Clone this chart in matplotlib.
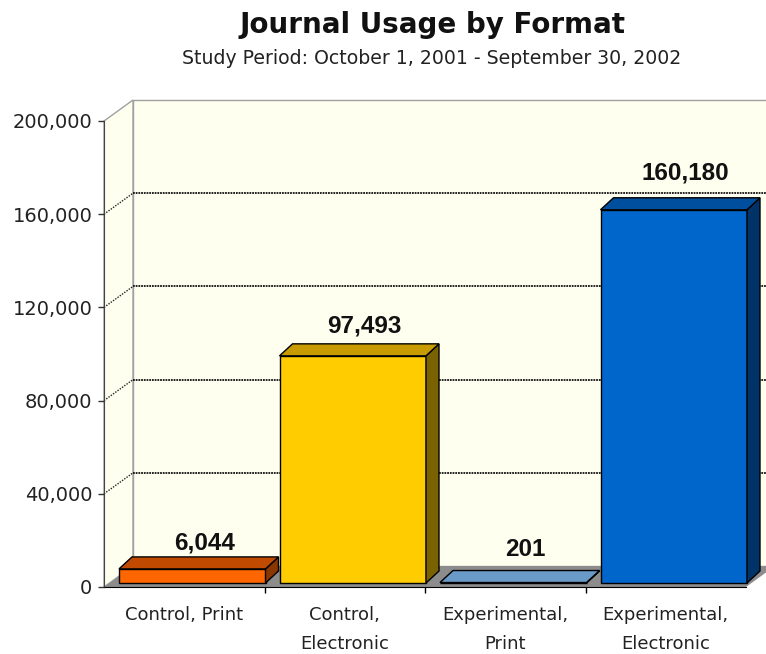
import matplotlib
matplotlib.use("Agg")
import matplotlib.pyplot as plt
from matplotlib.patches import Polygon
from matplotlib.transforms import IdentityTransform
from matplotlib.ticker import FuncFormatter

categories = ["Control, Print", "Control,\nElectronic", "Experimental,\nPrint", "Experimental,\nElectronic"]
usage = [6044, 97493, 201, 160180]
front_colors = ["#FF6600", "#FFCC00", "#6A9AC8", "#0066CC"]
top_colors = ["#C04A00", "#C89B00", "#6A9AC8", "#004E9E"]
side_colors = ["#8A3600", "#7A6200", "#3F6A96", "#003468"]
yticks = [0, 40000, 80000, 120000, 160000, 200000]

W, H = 766, 654
fig = plt.figure(figsize=(W / 100, H / 100), dpi=100)
ax = fig.add_axes([104 / W, (H - 587) / H, 642 / W, 466 / H])
ax.set_xlim(0, 4)
ax.set_ylim(0, 200000)
ax.patch.set_visible(False)

# depth offsets in pixels (wall depth, bar front, bar depth)
DW, DH = 29, 21
FX, FY = 8, 4
SX, SY = 13, 12
gap = 7 / 160.5
top = yticks[-1]


def px(x, y, dx=0, dy=0):
    a, b = ax.transData.transform((x, y))
    return (a + dx, b + dy)


def face(pts, color, ec="black", lw=1.0, z=1):
    ax.add_patch(Polygon(pts, closed=True, facecolor=color, edgecolor=ec, lw=lw,
                         transform=IdentityTransform(), clip_on=False, zorder=z))


def line(pts, **kw):
    xs = [p[0] for p in pts]
    ys = [p[1] for p in pts]
    ax.plot(xs, ys, transform=IdentityTransform(), clip_on=False, **kw)


# walls and floor
face([px(0, 0, DW, DH), px(4, 0, DW, DH), px(4, top, DW, DH), px(0, top, DW, DH)],
     "#FFFFF0", ec="#A0A0A0", z=0.5)
face([px(0, 0), px(0, 0, DW, DH), px(0, top, DW, DH), px(0, top)],
     "#FFFFF0", ec="#A0A0A0", z=0.6)
face([px(0, 0), px(4, 0), px(4, 0, DW, DH), px(0, 0, DW, DH)], "#8C8C8C", ec="none", z=0.7)

# gridlines
for v in yticks[1:-1]:
    line([px(0, v), px(0, v, DW, DH)], color="#222222", lw=1.0, ls=(0, (1, 1)), zorder=0.8)
    line([px(0, v, DW, DH), px(4, v, DW, DH)], color="#111111", lw=1.3, ls=(0, (1, 0.5)), zorder=0.8)

# bars
for i, v in enumerate(usage):
    x0, x1 = i + gap, i + 1 - gap
    face([px(x0, 0, FX, FY), px(x1, 0, FX, FY), px(x1, v, FX, FY), px(x0, v, FX, FY)],
         front_colors[i], z=2 + i)
    face([px(x1, 0, FX, FY), px(x1, 0, FX + SX, FY + SY), px(x1, v, FX + SX, FY + SY), px(x1, v, FX, FY)],
         side_colors[i], z=2 + i)
    face([px(x0, v, FX, FY), px(x1, v, FX, FY), px(x1, v, FX + SX, FY + SY), px(x0, v, FX + SX, FY + SY)],
         top_colors[i], z=2 + i)
    ax.annotate(f"{v:,}", xy=(i + 0.5, v), xytext=(20, 30 + 3.7 * i), textcoords="offset pixels",
                ha="center", va="center", fontsize=17.5, fontweight="bold",
                family=["Liberation Sans", "DejaVu Sans"], color="#111111", zorder=10)

# axes
for s in ["top", "right"]:
    ax.spines[s].set_visible(False)
ax.spines["left"].set_color("#444444")
ax.spines["bottom"].set_color("black")
ax.spines["left"].set_zorder(1)
ax.spines["bottom"].set_zorder(1)

ax.set_yticks(yticks)
ax.yaxis.set_major_formatter(FuncFormatter(lambda v, p: f"{v:,.0f}"))
ax.tick_params(axis="y", length=4.3, width=1, pad=4, labelsize=14, color="#333333", labelcolor="#222222")

ax.set_xticks([0.5, 1.5, 2.5, 3.5], categories)
ax.set_xticks([1, 2, 3], minor=True)
ax.tick_params(axis="x", which="major", length=0, pad=14, labelsize=13, labelcolor="#222222")
ax.tick_params(axis="x", which="minor", length=4, width=1, color="black")
for t in ax.get_xticklabels():
    t.set_linespacing(1.75)
    t.set_verticalalignment("top")

fig.text(433 / W, 1 - 33 / H, "Journal Usage by Format", ha="center", va="baseline",
         fontsize=20, fontweight="bold", color="#111111")
fig.text(432 / W, 1 - 64 / H, "Study Period: October 1, 2001 - September 30, 2002", ha="center",
         va="baseline", fontsize=13.6, color="#222222")

fig.savefig("out.png", dpi=100)
